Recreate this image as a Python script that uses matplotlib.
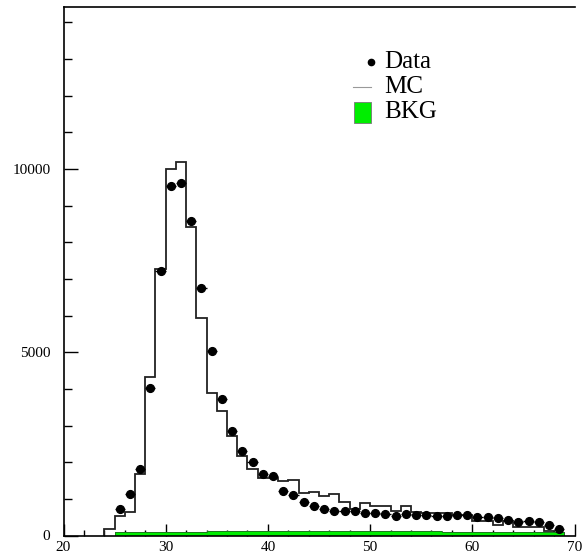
import numpy as np
import matplotlib
matplotlib.use("Agg")
import matplotlib.pyplot as plt
from matplotlib.patches import Rectangle
from matplotlib.lines import Line2D

# ---- data ----
mc_edges_start = 24
mc_values = [170, 540, 645, 1670, 4330, 7260, 10000, 10200, 8420, 5940,
             3880, 3400, 2720, 2175, 1805, 1575, 1575, 1490, 1520, 1168,
             1190, 1090, 1140, 920, 710, 880, 810, 810, 680, 810,
             645, 625, 625, 625, 560, 560, 400, 400, 280, 390,
             245, 245, 220, 115, 80]

data_x = [25.5, 26.5, 27.5, 28.5, 29.5, 30.5, 31.5, 32.5, 33.5, 34.5,
          35.5, 36.5, 37.5, 38.5, 39.5, 40.5, 41.5, 42.5, 43.5, 44.5,
          45.5, 46.5, 47.5, 48.5, 49.5, 50.5, 51.5, 52.5, 53.5, 54.5,
          55.5, 56.5, 57.5, 58.5, 59.5, 60.5, 61.5, 62.5, 63.5, 64.5,
          65.5, 66.5, 67.5, 68.5]
data_y = [720, 1124, 1805, 4025, 7230, 9530, 9620, 8580, 6750, 5040,
          3724, 2860, 2315, 2000, 1680, 1625, 1223, 1105, 923, 805,
          735, 680, 677, 668, 618, 618, 585, 520, 585, 550,
          550, 545, 520, 570, 565, 510, 496, 477, 432, 372,
          387, 362, 290, 177]

bkg_edges_start = 25
bkg_values = [90, 95, 95, 100, 100, 100, 105, 105, 105, 110, 110, 110, 115, 115,
              115, 115, 120, 120, 120, 120, 120, 120, 120, 120, 120, 115, 115, 115,
              115, 110, 110, 110, 105, 105, 105, 100, 100, 100, 95, 95, 95, 90,
              90, 90]

x_ticks = [20, 30, 40, 50, 60, 70]
y_ticks = [0, 5000, 10000]
legend_labels = ["Data", "MC", "BKG"]

GREEN = "#00ee00"
SERIF = ["Liberation Serif", "DejaVu Serif"]

fig = plt.figure(figsize=(5.82, 5.54), dpi=100)
ax = fig.add_axes([63.5 / 582, 18.5 / 554, 511 / 582, 528.5 / 554])

mc_edges = np.arange(mc_edges_start, mc_edges_start + len(mc_values) + 1)
bkg_edges = np.arange(bkg_edges_start, bkg_edges_start + len(bkg_values) + 1)

ax.stairs(mc_values, mc_edges, baseline=0, color="#222222", lw=1.3, zorder=1.6)
ax.stairs(bkg_values, bkg_edges, baseline=0, fill=True, facecolor=GREEN,
          edgecolor="none", zorder=1.7)
ax.stairs(bkg_values, bkg_edges, baseline=0, color="#226622", lw=0.6, zorder=1.8)
ax.errorbar(data_x, data_y, xerr=0.5, fmt="o", color="black", markersize=5.6,
            elinewidth=1.0, capsize=0, zorder=5)

ax.set_xlim(20, 70)
ax.set_ylim(0, 14420)
ax.set_xticks(x_ticks)
ax.set_yticks(y_ticks)
ax.set_xticks(np.arange(20, 71, 2), minor=True)
ax.set_yticks(np.arange(0, 14001, 1000), minor=True)
ax.set_xticklabels([str(t) for t in x_ticks], family=SERIF, fontsize=11)
ax.set_yticklabels([str(t) for t in y_ticks], family=SERIF, fontsize=11)
ax.tick_params(axis="both", which="both", direction="in", top=False, right=False,
               width=1.0, color="black")
ax.tick_params(axis="x", which="major", length=9, pad=4)
ax.tick_params(axis="x", which="minor", length=4.5)
ax.tick_params(axis="y", which="major", length=10, pad=9.5)
ax.tick_params(axis="y", which="minor", length=5.5)
ax.spines["right"].set_visible(False)
for s in ["left", "top", "bottom"]:
    ax.spines[s].set_linewidth(1.2)

# ---- legend (manual) ----
def fx(px):
    return (px - 63.5) / 511.0

def fy(py):
    return (535.5 - py) / 528.5

ax.plot([fx(370.5)], [fy(62)], "o", color="black", markersize=4.5,
        transform=ax.transAxes, zorder=6, clip_on=False)
ax.add_line(Line2D([fx(353), fx(371)], [fy(87), fy(87)], color="#999999", lw=0.8,
                   transform=ax.transAxes))
ax.add_patch(Rectangle((fx(353.5), fy(122.5)), fx(370.5) - fx(353.5),
                       fy(102.5) - fy(122.5), facecolor=GREEN, edgecolor="#777777",
                       lw=0.6, transform=ax.transAxes))
for lab, py in zip(legend_labels, [62, 87, 112]):
    ax.text(fx(384), fy(py), lab, transform=ax.transAxes, family=SERIF,
            fontsize=18, va="center", ha="left")

fig.savefig("out.png", dpi=100)
